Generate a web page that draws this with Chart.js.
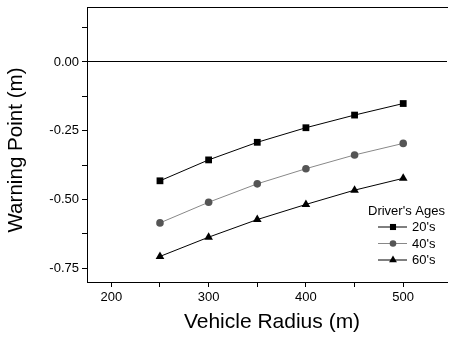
<!DOCTYPE html>
<html>
<head>
<meta charset="utf-8">
<script src="https://cdn.jsdelivr.net/npm/chart.js@4/dist/chart.umd.min.js"></script>
<style>
html,body{margin:0;padding:0;background:#fff;}
canvas{display:block;}
</style>
</head>
<body>
<canvas id="c" width="452" height="337"></canvas>
<script>
const radius = [250, 300, 350, 400, 450, 500];
const age20 = [-0.432, -0.356, -0.292, -0.239, -0.193, -0.151];
const age40 = [-0.585, -0.510, -0.443, -0.388, -0.338, -0.296];
const age60 = [-0.707, -0.637, -0.573, -0.518, -0.466, -0.423];
const seriesLabels = ["20's", "40's", "60's"];
const yTickValues = [-0.75, -0.625, -0.5, -0.375, -0.25, -0.125, 0, 0.125];
const yTickLabels = ['-0.75', '', '-0.50', '', '-0.25', '', '0.00', ''];
const xTickValues = [200, 250, 300, 350, 400, 450, 500];
const xTickLabels = ['200', '', '300', '', '400', '', '500'];
const legendTitle = "Driver's Ages";
const xTitle = "Vehicle Radius (m)";
const yTitle = "Warning Point (m)";

const FONT = "'Liberation Sans', Arial, sans-serif";
const pts = arr => radius.map((r, i) => ({x: r, y: arr[i]}));

function drawMarker(ctx, style, x, y, r, color) {
  ctx.save();
  ctx.fillStyle = color;
  ctx.beginPath();
  if (style === 'rect') {
    const s = r * Math.SQRT1_2;
    ctx.rect(x - s, y - s, 2 * s, 2 * s);
  } else if (style === 'circle') {
    ctx.arc(x, y, r, 0, Math.PI * 2);
  } else {
    const w = r * 1.73;
    ctx.moveTo(x, y - r);
    ctx.lineTo(x + w / 2, y + r * 0.5);
    ctx.lineTo(x - w / 2, y + r * 0.5);
    ctx.closePath();
  }
  ctx.fill();
  ctx.restore();
}

const legendPlugin = {
  id: 'innerLegend',
  afterDraw(chart) {
    const ctx = chart.ctx;
    ctx.save();
    ctx.font = '13px ' + FONT;
    ctx.fillStyle = '#000';
    ctx.textBaseline = 'middle';
    ctx.textAlign = 'left';
    ctx.fillText(legendTitle, 368, 211);
    chart.data.datasets.forEach((ds, i) => {
      const y = 227 + i * 16.5;
      ctx.strokeStyle = ds.borderColor;
      ctx.lineWidth = 1;
      ctx.beginPath();
      ctx.moveTo(378, y);
      ctx.lineTo(407, y);
      ctx.stroke();
      drawMarker(ctx, ds.pointStyle, 393, y, ds.pointRadius - 0.5, ds.pointBackgroundColor);
      ctx.fillStyle = '#000';
      ctx.fillText(ds.label, 412, y + 0.5);
    });
    ctx.restore();
  }
};

const titlePlugin = {
  id: 'axisTitles',
  afterDraw(chart) {
    const ctx = chart.ctx;
    ctx.save();
    ctx.font = '21px ' + FONT;
    ctx.fillStyle = '#000';
    ctx.textAlign = 'center';
    ctx.textBaseline = 'middle';
    ctx.fillText(xTitle, 272, 322);
    ctx.translate(16, 150);
    ctx.rotate(-Math.PI / 2);
    ctx.font = '20.6px ' + FONT;
    ctx.fillText(yTitle, 0, 0);
    ctx.restore();
  }
};

const labelFor = (vals, labs) => v => {
  const i = vals.findIndex(t => Math.abs(t - v) < 1e-9);
  return i >= 0 ? labs[i] : '';
};

new Chart(document.getElementById('c'), {
  type: 'line',
  data: {
    datasets: [
      {label: seriesLabels[0], data: pts(age20), borderColor: '#000', borderWidth: 1,
       pointStyle: 'rect', pointRadius: 4.8, pointBackgroundColor: '#000', pointBorderColor: '#000', pointBorderWidth: 0},
      {label: seriesLabels[1], data: pts(age40), borderColor: '#888', borderWidth: 1,
       pointStyle: 'circle', pointRadius: 3.8, pointBackgroundColor: '#555', pointBorderColor: '#555', pointBorderWidth: 0},
      {label: seriesLabels[2], data: pts(age60), borderColor: '#000', borderWidth: 1,
       pointStyle: 'triangle', pointRadius: 5, pointBackgroundColor: '#000', pointBorderColor: '#000', pointBorderWidth: 0}
    ]
  },
  options: {
    responsive: false,
    animation: false,
    devicePixelRatio: 1,
    layout: {padding: {top: 7, right: 0, left: 0, bottom: 0}},
    plugins: {legend: {display: false}, tooltip: {enabled: false}},
    scales: {
      x: {
        type: 'linear', position: 'bottom', min: 175, max: 545,
        afterFit: s => { s.height = 55; s.paddingLeft = 0; s.paddingRight = 0; },
        afterBuildTicks: s => { s.ticks = xTickValues.map(v => ({value: v})); },
        ticks: {
          padding: 3, color: '#000', maxRotation: 0, autoSkip: false,
          font: {family: FONT, size: 13},
          callback: labelFor(xTickValues, xTickLabels)
        },
        grid: {drawOnChartArea: false, tickLength: 5, tickColor: '#000', tickWidth: 1},
        border: {display: true, color: '#000', width: 1},
        title: {display: false}
      },
      x2: {
        type: 'linear', position: 'top', min: 175, max: 545,
        afterFit: s => { s.height = 0; s.paddingLeft = 0; s.paddingRight = 0; },
        ticks: {display: false},
        grid: {display: false, drawTicks: false},
        border: {display: true, color: '#000', width: 1}
      },
      y: {
        type: 'linear', position: 'left', min: -0.8, max: 0.2,
        afterFit: s => { s.width = 87; s.paddingTop = 0; s.paddingBottom = 0; },
        afterBuildTicks: s => { s.ticks = yTickValues.map(v => ({value: v})); },
        ticks: {
          padding: 3, color: '#000', autoSkip: false,
          font: {family: FONT, size: 13},
          callback: labelFor(yTickValues, yTickLabels)
        },
        grid: {
          drawOnChartArea: true, tickLength: 5, tickColor: '#000', tickWidth: 1, lineWidth: 1,
          color: c => (c.tick && Math.abs(c.tick.value) < 1e-9 ? '#000' : 'rgba(0,0,0,0)')
        },
        border: {display: true, color: '#000', width: 1},
        title: {display: false}
      }
    }
  },
  plugins: [legendPlugin, titlePlugin]
});
</script>
</body>
</html>
